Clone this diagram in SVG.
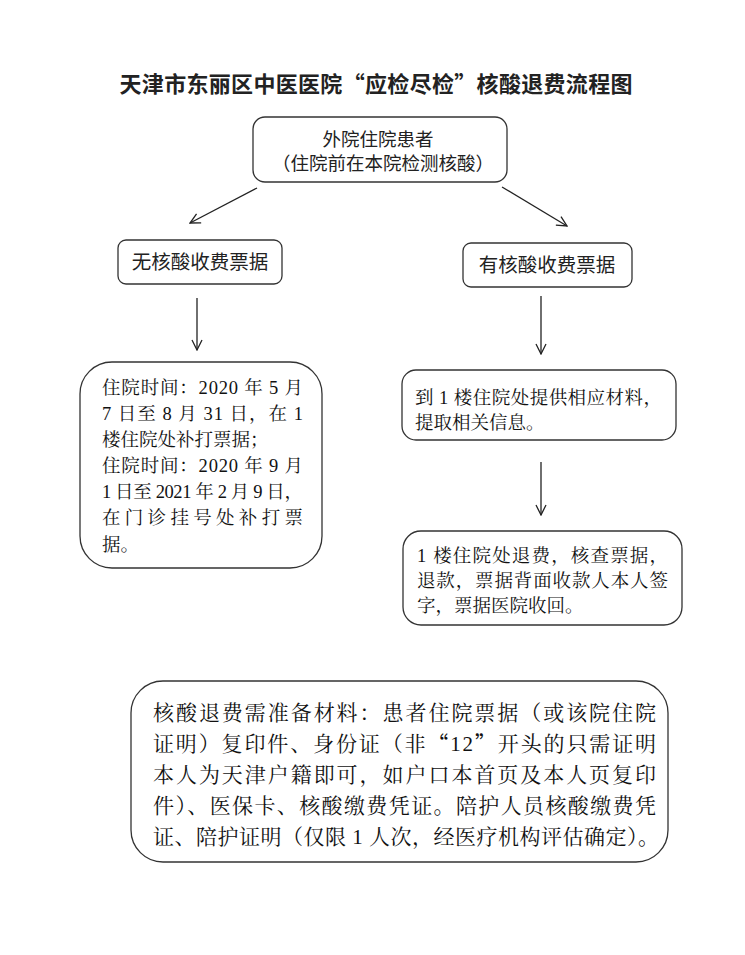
<svg xmlns="http://www.w3.org/2000/svg" width="745" height="955" viewBox="0 0 745 955">
<defs>
<marker id="arr" viewBox="0 0 12 12" refX="11" refY="6" markerWidth="12" markerHeight="12" markerUnits="userSpaceOnUse" orient="auto">
<path d="M1,1 L11,6 L1,11" fill="none" stroke="#222" stroke-width="1.3"/>
</marker>
<style>
.box{fill:#fff;stroke:#333;stroke-width:1.3}
.sans{font-family:"Noto Sans CJK SC","Noto Sans",sans-serif;fill:#222}
.ser{font-family:"Liberation Serif","Noto Serif CJK SC","Noto Sans CJK SC",serif;fill:#111}
.cjk{font-family:"Noto Sans CJK SC",sans-serif}
.t{font-size:18.5px}
.b{font-size:21px}
.edge{stroke:#222;stroke-width:1.3;fill:none;marker-end:url(#arr)}
</style>
</defs>
<rect width="745" height="955" fill="#fff"/>
<text id="title" class="sans" x="376" y="92" font-size="22" font-weight="700" text-anchor="middle" textLength="513" lengthAdjust="spacing">天津市东丽区中医医院“应检尽检”核酸退费流程图</text>
<g id="edges">
<line class="edge" x1="257" y1="188" x2="190" y2="223"/>
<line class="edge" x1="502" y1="187" x2="567" y2="226"/>
<line class="edge" x1="197" y1="298" x2="197" y2="350"/>
<line class="edge" x1="541" y1="296" x2="541" y2="354"/>
<line class="edge" x1="541" y1="462" x2="541" y2="515"/>
</g>
<g id="n_top">
<rect class="box" x="253" y="117" width="254" height="65" rx="12"/>
<text class="sans" x="378" y="146" font-size="18.5" text-anchor="middle">外院住院患者</text>
<text class="sans" x="383" y="170" font-size="18.5" text-anchor="middle" textLength="222" lengthAdjust="spacing">（住院前在本院检测核酸）</text>
</g>
<g id="n_no">
<rect class="box" x="118" y="240" width="164" height="44" rx="8"/>
<text class="sans" x="200" y="269" font-size="19.5" text-anchor="middle">无核酸收费票据</text>
</g>
<g id="n_yes">
<rect class="box" x="463" y="243" width="169" height="44" rx="8"/>
<text class="sans" x="547" y="272" font-size="19.5" text-anchor="middle">有核酸收费票据</text>
</g>
<g id="n_left">
<rect class="box" x="80" y="362" width="242" height="206" rx="32"/>
<g class="ser t">
<text x="102" y="394" textLength="201" lengthAdjust="spacing">住院时间：2020 年 5 月</text>
<text x="102" y="420" textLength="201" lengthAdjust="spacing">7 日至 8 月 31 日，在 1</text>
<text x="102" y="446">楼住院处补打票据；</text>
<text x="102" y="472" textLength="201" lengthAdjust="spacing">住院时间：2020 年 9 月</text>
<text x="102" y="498" textLength="201" lengthAdjust="spacing">1 日至 2021 年 2 月 9 日，</text>
<text x="102" y="524" textLength="201" lengthAdjust="spacing">在门诊挂号处补打票</text>
<text x="102" y="551">据。</text>
</g>
</g>
<g id="n_r1">
<rect class="box" x="402" y="370" width="274" height="70" rx="14"/>
<g class="ser t">
<text x="415" y="404" textLength="247" lengthAdjust="spacing">到 1 楼住院处提供相应材料，</text>
<text x="415" y="429">提取相关信息。</text>
</g>
</g>
<g id="n_r2">
<rect class="box" x="403" y="531" width="279" height="94" rx="18"/>
<g class="ser t">
<text x="417" y="562" textLength="251" lengthAdjust="spacing">1 楼住院处退费，核查票据，</text>
<text x="417" y="587" textLength="251" lengthAdjust="spacing">退款，票据背面收款人本人签</text>
<text x="417" y="612">字，票据医院收回。</text>
</g>
</g>
<g id="n_bottom">
<rect class="box" x="131" y="681" width="537" height="181" rx="32"/>
<g class="ser b">
<text x="153" y="720" textLength="503" lengthAdjust="spacing">核酸退费需准备材料：患者住院票据（或该院住院</text>
<text x="153" y="751" textLength="503" lengthAdjust="spacing">证明）复印件、身份证（非<tspan class="cjk">“</tspan>12<tspan class="cjk">”</tspan>开头的只需证明</text>
<text x="153" y="782" textLength="503" lengthAdjust="spacing">本人为天津户籍即可，如户口本首页及本人页复印</text>
<text x="153" y="813" textLength="503" lengthAdjust="spacing">件）、医保卡、核酸缴费凭证。陪护人员核酸缴费凭</text>
<text x="153" y="844" textLength="506" lengthAdjust="spacing">证、陪护证明（仅限 1 人次，经医疗机构评估确定）。</text>
</g>
</g>
</svg>
